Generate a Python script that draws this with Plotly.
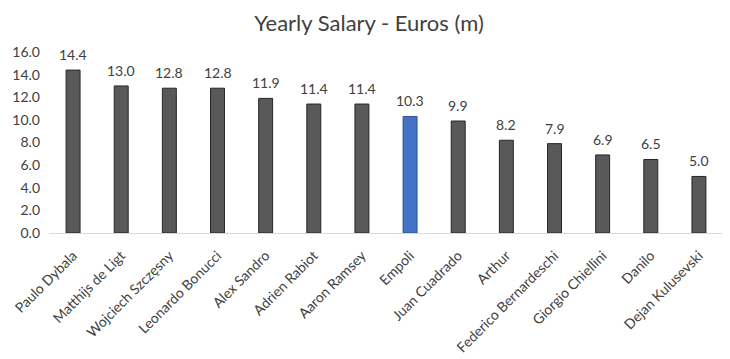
import plotly.graph_objects as go

players = ["Paulo Dybala", "Matthijs de Ligt", "Wojciech Szczęsny", "Leonardo Bonucci",
           "Alex Sandro", "Adrien Rabiot", "Aaron Ramsey", "Empoli", "Juan Cuadrado",
           "Arthur", "Federico Bernardeschi", "Giorgio Chiellini", "Danilo", "Dejan Kulusevski"]
salary = [14.4, 13.0, 12.8, 12.8, 11.9, 11.4, 11.4, 10.3, 9.9, 8.2, 7.9, 6.9, 6.5, 5.0]
highlight = "Empoli"

fill = ["#4472C4" if p == highlight else "#595959" for p in players]
edge = ["#2F528F" if p == highlight else "#262626" for p in players]

fig = go.Figure(go.Bar(
    x=players, y=salary,
    marker=dict(color=fill, line=dict(color=edge, width=1)),
    width=0.29,
    hoverinfo="x+y",
))

for p, v in zip(players, salary):
    fig.add_annotation(x=p, y=v, text=f"{v:.1f}", showarrow=False,
                       yanchor="bottom", yshift=5,
                       font=dict(size=14, color="#404040", family="Lato"))

fig.update_layout(
    width=722, height=351,
    margin=dict(l=41, r=7, t=44, b=126, autoexpand=False),
    paper_bgcolor="white", plot_bgcolor="white",
    font=dict(family="Lato", color="#404040", size=14),
    title=dict(text="Yearly Salary - Euros (m)", x=0.5, xanchor="center",
               y=0.957, yanchor="middle", font=dict(size=22, color="#404040", family="Lato")),
    showlegend=False,
)
fig.update_xaxes(showline=True, linecolor="#D9D9D9", linewidth=1, tickangle=-45,
                 ticks="", automargin=False, ticklabelstandoff=8,
                 tickfont=dict(size=14, color="#404040"))
fig.update_yaxes(range=[0, 16], dtick=2, tickformat=".1f", showgrid=False,
                 zeroline=False, showline=False, ticks="", ticklabelstandoff=8,
                 automargin=False,
                 tickfont=dict(size=14, color="#404040"))

fig.write_html("out.html")
